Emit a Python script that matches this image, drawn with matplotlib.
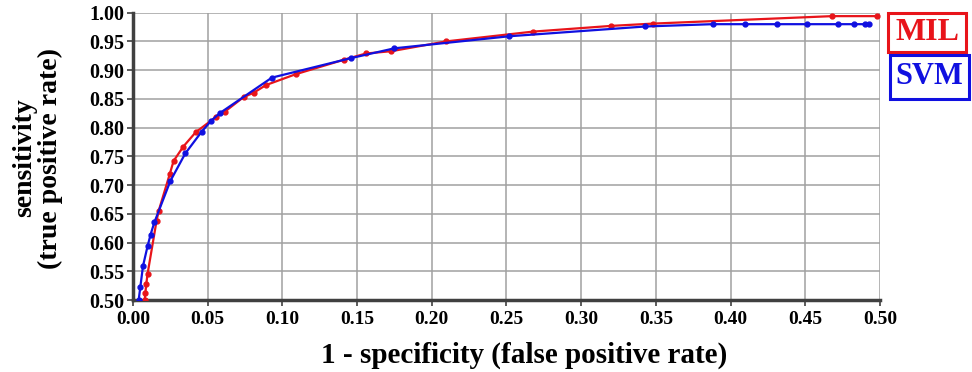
import numpy as np
import matplotlib
matplotlib.use("Agg")
import matplotlib.pyplot as plt
from matplotlib.patches import Rectangle

# ===================== 数据 =====================
mil_fpr = [0.0078, 0.0083, 0.0089, 0.0098, 0.0158, 0.0172, 0.0246, 0.0272, 0.0337,
           0.042, 0.0558, 0.0616, 0.074, 0.081, 0.089, 0.109, 0.141, 0.156, 0.173,
           0.2095, 0.2675, 0.320, 0.348, 0.468, 0.498]
mil_tpr = [0.500, 0.512, 0.528, 0.546, 0.638, 0.655, 0.719, 0.742, 0.767,
           0.792, 0.819, 0.828, 0.853, 0.861, 0.874, 0.893, 0.918, 0.929, 0.933,
           0.950, 0.967, 0.977, 0.981, 0.994, 0.994]

svm_fpr = [0.0038, 0.0049, 0.0067, 0.0098, 0.0118, 0.0143, 0.025, 0.035, 0.046,
           0.052, 0.058, 0.093, 0.146, 0.175, 0.252, 0.343, 0.388, 0.410, 0.431,
           0.451, 0.472, 0.4826, 0.490, 0.493]
svm_tpr = [0.500, 0.522, 0.559, 0.594, 0.614, 0.635, 0.707, 0.755, 0.793,
           0.811, 0.825, 0.887, 0.921, 0.938, 0.959, 0.976, 0.980, 0.980, 0.980,
           0.980, 0.980, 0.980, 0.980, 0.980]

x_ticks = np.arange(0, 0.501, 0.05)
y_ticks = np.arange(0.5, 1.001, 0.05)

serif = ['Liberation Serif', 'DejaVu Serif']
RED = '#e8141a'
BLUE = '#1010e0'

fig = plt.figure(figsize=(9.72, 3.72), dpi=100)
ax = fig.add_axes([0.1368, 0.1935, 0.7685, 0.7724])

ax.plot(mil_fpr, mil_tpr, color=RED, lw=1.6, marker='o', ms=3.5, zorder=3)
ax.plot(svm_fpr, svm_tpr, color=BLUE, lw=1.6, marker='o', ms=3.5, zorder=4)

ax.set_xlim(0, 0.5)
ax.set_ylim(0.5, 1.0)
ax.set_xticks(x_ticks)
ax.set_yticks(y_ticks)
ax.set_xticklabels([f"{v:.2f}" for v in x_ticks], family=serif, weight='bold', fontsize=14)
ax.set_yticklabels([f"{v:.2f}" for v in y_ticks], family=serif, weight='bold', fontsize=14.5)
ax.grid(True, color='#a0a0a0', lw=1.1)
ax.set_axisbelow(True)

for s in ['top', 'right']:
    ax.spines[s].set_visible(False)
for s in ['left', 'bottom']:
    ax.spines[s].set_color('#404040')
    ax.spines[s].set_linewidth(2.5)
ax.tick_params(length=4, width=1.2, color='#404040')
ax.tick_params(axis='x', pad=4)
ax.tick_params(axis='y', pad=2)

# 轴标题
fig.text(0.539, 0.046, "1 - specificity (false positive rate)", family=serif,
         weight='bold', fontsize=21, ha='center', va='center')
fig.text(0.039, 0.575, "sensitivity\n(true positive rate)", family=serif,
         weight='bold', fontsize=20, ha='center', va='center', rotation=90,
         linespacing=1.05)

# 图例（两个带框文字）
fig.patches.append(Rectangle((888 / 972, 1 - 52 / 372), 78 / 972, 39 / 372,
                             transform=fig.transFigure, fill=False, ec=RED, lw=2.2))
fig.patches.append(Rectangle((890 / 972, 1 - 99 / 372), 79 / 972, 44 / 372,
                             transform=fig.transFigure, fill=False, ec=BLUE, lw=2.2))
fig.text(927 / 972, 1 - 33 / 372, "MIL", family=serif, weight='bold', fontsize=23,
         color=RED, ha='center', va='center')
fig.text(929.5 / 972, 1 - 77 / 372, "SVM", family=serif, weight='bold', fontsize=22,
         color=BLUE, ha='center', va='center')

plt.savefig("out.png", dpi=100)
